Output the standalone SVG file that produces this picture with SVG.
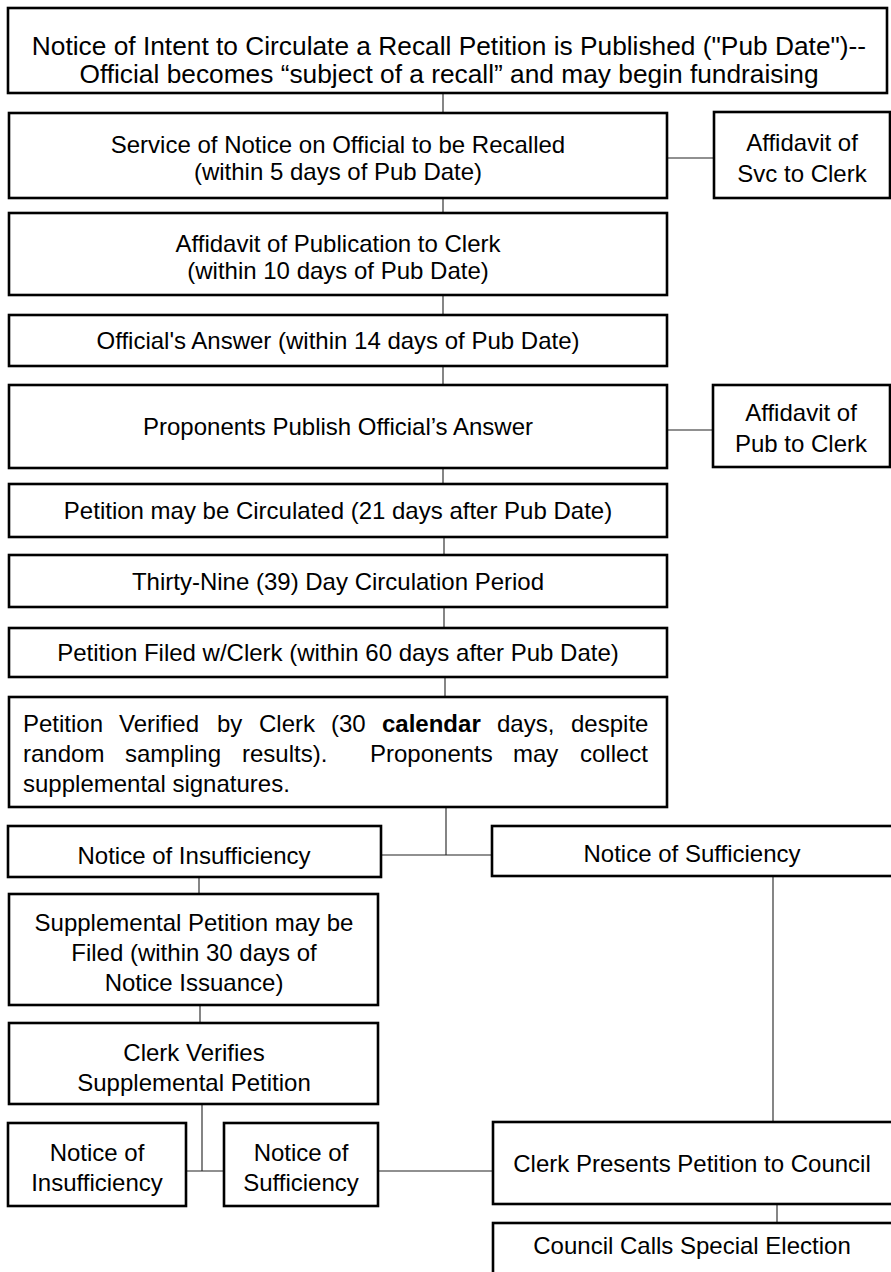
<svg xmlns="http://www.w3.org/2000/svg" width="891" height="1272" viewBox="0 0 891 1272">
<style>
.box{fill:#fff;stroke:#000;stroke-width:2.6}
.t{font-family:"Liberation Sans",Arial,sans-serif;font-size:24px;fill:#000;text-anchor:middle}
.tl{font-family:"Liberation Sans",Arial,sans-serif;font-size:24px;fill:#000}
.big{font-size:26.3px}
.c{stroke:#222;stroke-width:1.1;fill:none}
</style>
<rect width="891" height="1272" fill="#fff"/>
<g id="connectors">
<path class="c" d="M443 93V113"/>
<path class="c" d="M667 158H714"/>
<path class="c" d="M443 198V213"/>
<path class="c" d="M443 295V315"/>
<path class="c" d="M443 366V385"/>
<path class="c" d="M667 430H713"/>
<path class="c" d="M443 468V484"/>
<path class="c" d="M444 537V555"/>
<path class="c" d="M444 607V628"/>
<path class="c" d="M445 677V697"/>
<path class="c" d="M446 807V855M381 855H492"/>
<path class="c" d="M199 877V894"/>
<path class="c" d="M200 1005V1023"/>
<path class="c" d="M202 1104V1171M186 1171H224"/>
<path class="c" d="M378 1171H493"/>
<path class="c" d="M773 876V1122"/>
<path class="c" d="M777 1204V1223"/>
</g>
<g id="n1"><rect class="box" x="8" y="8" width="879" height="85"/>
<text class="t big" x="449" y="55">Notice of Intent to Circulate a Recall Petition is Published ("Pub Date")--</text>
<text class="t big" x="449" y="83">Official becomes “subject of a recall” and may begin fundraising</text></g>
<g id="n2"><rect class="box" x="9" y="113" width="658" height="85"/>
<text class="t" x="338" y="153">Service of Notice on Official to be Recalled</text>
<text class="t" x="338" y="180">(within 5 days of Pub Date)</text></g>
<g id="n3"><rect class="box" x="714" y="112" width="176" height="86"/>
<text class="t" x="802" y="151">Affidavit of</text>
<text class="t" x="802" y="182">Svc to Clerk</text></g>
<g id="n4"><rect class="box" x="9" y="213" width="658" height="82"/>
<text class="t" x="338" y="252">Affidavit of Publication to Clerk</text>
<text class="t" x="338" y="279">(within 10 days of Pub Date)</text></g>
<g id="n5"><rect class="box" x="9" y="315" width="658" height="51"/>
<text class="t" x="338" y="349">Official's Answer (within 14 days of Pub Date)</text></g>
<g id="n6"><rect class="box" x="9" y="385" width="658" height="83"/>
<text class="t" x="338" y="435">Proponents Publish Official’s Answer</text></g>
<g id="n7"><rect class="box" x="713" y="385" width="177" height="82"/>
<text class="t" x="801" y="421">Affidavit of</text>
<text class="t" x="801" y="452">Pub to Clerk</text></g>
<g id="n8"><rect class="box" x="9" y="484" width="658" height="53"/>
<text class="t" x="338" y="519">Petition may be Circulated (21 days after Pub Date)</text></g>
<g id="n9"><rect class="box" x="9" y="555" width="658" height="52"/>
<text class="t" x="338" y="590">Thirty-Nine (39) Day Circulation Period</text></g>
<g id="n10"><rect class="box" x="9" y="628" width="658" height="49"/>
<text class="t" x="338" y="661">Petition Filed w/Clerk (within 60 days after Pub Date)</text></g>
<g id="n11"><rect class="box" x="9" y="697" width="658" height="110"/>
<text class="tl" y="732"><tspan x="23">Petition</tspan><tspan x="119">Verified</tspan><tspan x="217">by</tspan><tspan x="259">Clerk</tspan><tspan x="331">(30</tspan><tspan x="382" font-weight="bold">calendar</tspan><tspan x="497">days,</tspan><tspan x="571">despite</tspan></text>
<text class="tl" y="762"><tspan x="23">random</tspan><tspan x="125">sampling</tspan><tspan x="242">results).</tspan><tspan x="370">Proponents</tspan><tspan x="513">may</tspan><tspan x="580">collect</tspan></text>
<text class="tl" x="23" y="792">supplemental signatures.</text></g>
<g id="n12"><rect class="box" x="8" y="826" width="373" height="51"/>
<text class="t" x="194" y="864">Notice of Insufficiency</text></g>
<g id="n13"><rect class="box" x="492" y="826" width="402" height="50"/>
<text class="t" x="692" y="862">Notice of Sufficiency</text></g>
<g id="n14"><rect class="box" x="9" y="894" width="369" height="111"/>
<text class="t" x="194" y="931">Supplemental Petition may be</text>
<text class="t" x="194" y="961">Filed (within 30 days of</text>
<text class="t" x="194" y="991">Notice Issuance)</text></g>
<g id="n15"><rect class="box" x="9" y="1023" width="369" height="81"/>
<text class="t" x="194" y="1061">Clerk Verifies</text>
<text class="t" x="194" y="1091">Supplemental Petition</text></g>
<g id="n16"><rect class="box" x="8" y="1123" width="178" height="83"/>
<text class="t" x="97" y="1161">Notice of</text>
<text class="t" x="97" y="1191">Insufficiency</text></g>
<g id="n17"><rect class="box" x="224" y="1123" width="154" height="83"/>
<text class="t" x="301" y="1161">Notice of</text>
<text class="t" x="301" y="1191">Sufficiency</text></g>
<g id="n18"><rect class="box" x="493" y="1122" width="401" height="82"/>
<text class="t" x="692" y="1172">Clerk Presents Petition to Council</text></g>
<g id="n19"><rect class="box" x="493" y="1223" width="401" height="60"/>
<text class="t" x="692" y="1254">Council Calls Special Election</text></g>
</svg>
